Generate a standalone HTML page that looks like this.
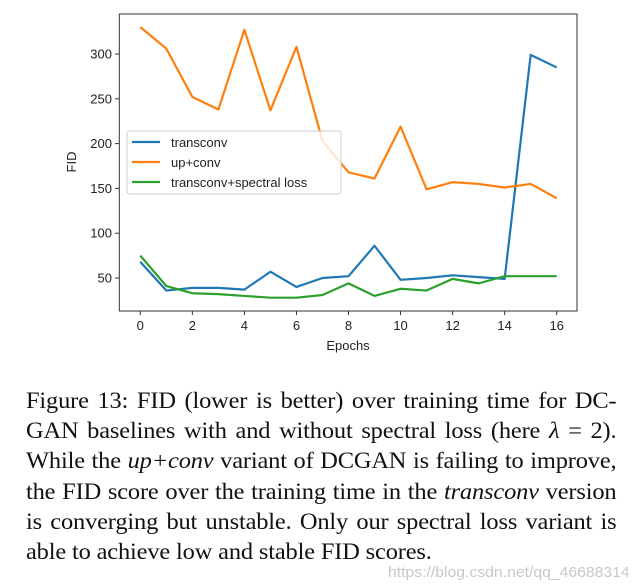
<!DOCTYPE html>
<html><head><meta charset="utf-8"><style>
body{margin:0;width:637px;height:585px;background:#fff;overflow:hidden;position:relative}
.cap{position:absolute;left:26px;top:386px;width:556px;font-family:"Liberation Serif",serif;font-size:23px;line-height:30.2px;color:#111;transform:scaleX(1.062);transform-origin:0 0}
.cap div{text-align:justify;text-align-last:justify;white-space:nowrap;letter-spacing:-0.15px}
.cap div.last{text-align-last:left}
.wm{position:absolute;left:388px;top:564px;font-family:"Liberation Sans",sans-serif;font-size:15px;color:#c8c8c8;transform:scaleX(1.05);transform-origin:0 0;white-space:nowrap}
</style></head><body>
<svg width="637" height="380" style="position:absolute;left:0;top:0" font-family="Liberation Sans, DejaVu Sans, sans-serif">
<g id="plot"></g>
</svg>
<div class="cap">
<div>Figure 13: FID (lower is better) over training time for DC-</div>
<div>GAN baselines with and without spectral loss (here <i>λ</i> = 2).</div>
<div>While the <i>up+conv</i> variant of DCGAN is failing to improve,</div>
<div>the FID score over the training time in the <i>transconv</i> version</div>
<div>is converging but unstable. Only our spectral loss variant is</div>
<div class="last">able to achieve low and stable FID scores.</div>
</div>
<div class="wm">https://blog.csdn.net/qq_46688314</div>
<script>
const epochs=[0,1,2,3,4,5,6,7,8,9,10,11,12,13,14,15,16];
const transconv=[68,36,39,39,37,57,40,50,52,86,48,50,53,51,49,299,285];
const upconv=[330,306,252,238,327,237,308,203,168,161,219,149,157,155,151,155,139];
const spectral=[75,41,33,32,30,28,28,31,44,30,38,36,49,44,52,52,52];
const xTicks=[0,2,4,6,8,10,12,14,16];
const yTicks=[50,100,150,200,250,300];
const NS='http://www.w3.org/2000/svg';
const g=document.getElementById('plot');
const X=v=>140.3+v*(556.7-140.3)/16;
const Y=v=>278-(v-50)*(224/250);
function el(t,a,txt){const e=document.createElementNS(NS,t);for(const k in a)e.setAttribute(k,a[k]);if(txt!=null)e.textContent=txt;g.appendChild(e);return e;}
xTicks.forEach(t=>{el('line',{x1:X(t),x2:X(t),y1:311,y2:315,stroke:'#333'});
 const e=el('text',{x:X(t),y:330,'text-anchor':'middle','font-size':13,fill:'#222'},t);
 
 });
yTicks.forEach(t=>{el('line',{x1:115,x2:119,y1:Y(t),y2:Y(t),stroke:'#333'});
 const e=el('text',{x:112,y:Y(t)+4.5,'text-anchor':'end','font-size':13,fill:'#222'},t);
 
 });
let e=el('text',{x:348,y:350,'text-anchor':'middle','font-size':13,fill:'#222'},'Epochs');


e=el('text',{x:0,y:0,'text-anchor':'middle','font-size':13,fill:'#222',transform:'translate(76,162) rotate(-90)'},'FID');


const series=[[transconv,'#1f77b4','transconv'],[upconv,'#ff7f0e','up+conv'],[spectral,'#2ca02c','transconv+spectral loss']];
series.forEach(([d,c,n])=>{
 const p=el('polyline',{points:d.map((v,i)=>X(epochs[i])+','+Y(v)).join(' '),fill:'none',stroke:c,'stroke-width':2.2,'stroke-linejoin':'round'});
 
 });
el('rect',{x:119.3,y:14,width:457.7,height:297,fill:'none',stroke:'#333','stroke-width':1});
const lg=el('rect',{x:127,y:131,width:214,height:63,rx:3,fill:'#fff','fill-opacity':0.8,stroke:'#ccc'});


series.forEach(([d,c,n],i)=>{const y=142+i*20;
 el('line',{x1:132,x2:160,y1:y,y2:y,stroke:c,'stroke-width':2.2});
 const t=el('text',{x:171,y:y+5,'font-size':13,fill:'#222'},n);
 
 });
</script>
</body></html>
